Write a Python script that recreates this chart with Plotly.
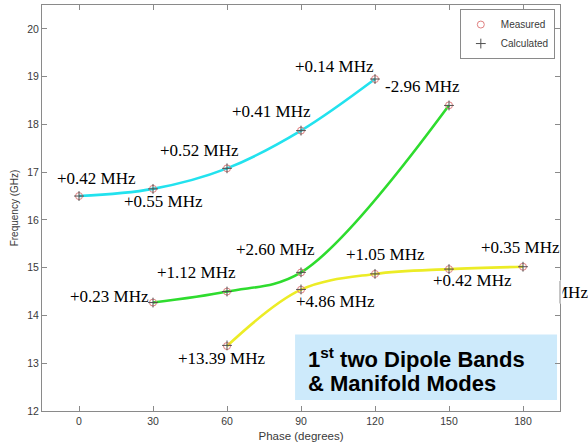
import plotly.graph_objects as go

# Dipole band dispersion: measured frequencies (GHz) vs cell phase advance (degrees)
band1_phase = [0, 30, 60, 90, 120]
band1_freq = [16.50, 16.65, 17.08, 17.87, 18.95]
band1_diff_mhz = [0.42, 0.55, 0.52, 0.41, 0.14]

band2_phase = [30, 60, 90, 150]
band2_freq = [14.27, 14.50, 14.90, 18.40]
band2_diff_mhz = [0.23, 1.12, 2.60, -2.96]

band3_phase = [60, 90, 120, 150, 180]
band3_freq = [13.36, 14.54, 14.87, 14.97, 15.02]
band3_diff_mhz = [13.39, 4.86, 1.05, 0.42, 0.35]

x_ticks = [0, 30, 60, 90, 120, 150, 180]
y_ticks = [12, 13, 14, 15, 16, 17, 18, 19, 20]

bands = [
    (band1_phase, band1_freq, band1_diff_mhz),
    (band2_phase, band2_freq, band2_diff_mhz),
    (band3_phase, band3_freq, band3_diff_mhz),
]
line_colors = ["#22e2ee", "#2edc2e", "#ecec26"]

# pixel offsets of each difference label from its point (dx right, dy up)
label_offsets = [
    [(17, 18), (10, -13), (-28, 18), (-30, 19), (-41, 13)],
    [(-44, 6), (-31, 19), (-26, 23), (-27, 19)],
    [(-6, -12), (34, -12), (10, 19), (23, -11), (-3, 19)],
]

fig = go.Figure()

for (ph, fr, _), col in zip(bands, line_colors):
    fig.add_trace(go.Scatter(
        x=ph, y=fr, mode="lines", line=dict(color=col, width=2.6, shape="spline", smoothing=1.0),
        showlegend=False, hoverinfo="skip"))

meas_x = [p for b in bands for p in b[0]]
meas_y = [f for b in bands for f in b[1]]
calc_y = [f + d / 1000.0 for b in bands for f, d in zip(b[1], b[2])]

fig.add_trace(go.Scatter(
    x=meas_x, y=meas_y, mode="markers", name="Measured",
    marker=dict(symbol="circle-open", size=7, color="#e08080", line=dict(width=1)),
    hoverinfo="skip"))
fig.add_trace(go.Scatter(
    x=meas_x, y=calc_y, mode="markers", name="Calculated",
    marker=dict(symbol="cross-thin-open", size=7, color="#505050", line=dict(width=1, color="#505050")),
    hoverinfo="skip"))

serif = dict(family="Liberation Serif", size=17, color="black")

annotations = []
for (ph, fr, diffs), offs in zip(bands, label_offsets):
    for p, f, d, (dx, dy) in zip(ph, fr, diffs, offs):
        annotations.append(dict(
            x=p, y=f, xref="x", yref="y", text=f"{d:+.2f} MHz", showarrow=False,
            xshift=dx, yshift=dy, font=serif))

# label partially hidden past the right frame
annotations.append(dict(
    x=0.9826, y=0.293, xref="paper", yref="paper", xanchor="left", yanchor="middle",
    text="MHz", showarrow=False, font=serif))
annotations.append(dict(
    x=0.9826, y=0.293, xref="paper", yref="paper", xanchor="left", yanchor="middle",
    text="\u00a0", showarrow=False, bgcolor="white", width=10, height=22, borderpad=0,
    font=dict(size=10, color="white")))
# frame segment redrawn over the white patch
annotations.append(dict(
    x=1.0, y=0.3202, xref="paper", yref="paper", text="", showarrow=True,
    ax=0, ay=24, arrowhead=0, arrowwidth=1, arrowcolor="#8a8a8a", standoff=0))

# caption inside the shaded box
caption_font = dict(family="Liberation Sans", size=22, color="black")
annotations.append(dict(
    x=92.0, y=13.115, xref="x", yref="y", xanchor="left", yanchor="middle", align="left",
    text="<b>1<sup>st</sup> two Dipole Bands</b>", showarrow=False, font=caption_font))
annotations.append(dict(
    x=92.0, y=12.57, xref="x", yref="y", xanchor="left", yanchor="middle", align="left",
    text="<b>&amp; Manifold Modes</b>", showarrow=False, font=caption_font))

axis_style = dict(
    showline=True, linecolor="#8a8a8a", linewidth=1, mirror="ticks", ticks="inside",
    ticklen=5, tickcolor="#8a8a8a", showgrid=False, zeroline=False,
    tickfont=dict(family="Liberation Sans", size=10.5, color="#3a3a3a"))

fig.update_layout(
    width=588, height=448,
    margin=dict(l=42, r=28, t=5, b=37),
    paper_bgcolor="white", plot_bgcolor="white",
    xaxis=dict(range=[-15, 195], tickvals=x_ticks,
               title=dict(text="Phase (degrees)", standoff=6,
                          font=dict(family="Liberation Sans", size=11.5, color="#3a3a3a")),
               **axis_style),
    yaxis=dict(range=[12, 20.5], tickvals=y_ticks,
               title=dict(text="Frequency (GHz)", standoff=6,
                          font=dict(family="Liberation Sans", size=10, color="#3a3a3a")),
               **axis_style),
    shapes=[dict(type="rect", xref="x", yref="y", x0=87.6, x1=193.8, y0=12.23, y1=13.6,
                 fillcolor="#cdeafb", line=dict(width=0), layer="below")],
    annotations=annotations,
    legend=dict(x=0.990, y=0.990, xanchor="right", yanchor="top", bgcolor="white",
                bordercolor="#8a8a8a", borderwidth=1, itemwidth=30, tracegroupgap=0,
                font=dict(family="Liberation Sans", size=10, color="#3a3a3a")),
    showlegend=True,
)

fig.write_html("out.html", config={"displayModeBar": False})
